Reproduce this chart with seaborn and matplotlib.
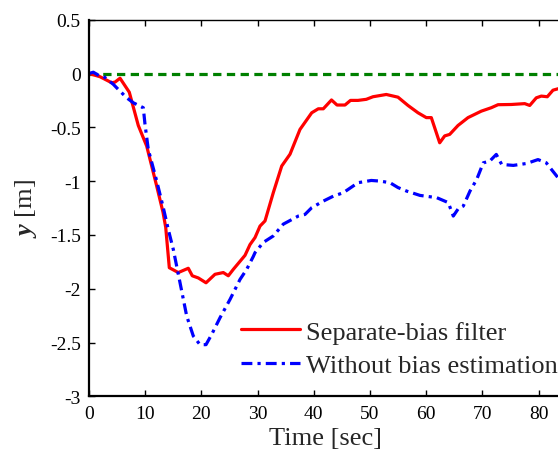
import numpy as np
import pandas as pd
import matplotlib
matplotlib.use("Agg")
import matplotlib.pyplot as plt
import seaborn as sns

# ---- data ----
t_sep = [0, 1.96, 4.04, 4.63, 5.52, 7.17, 8.77, 10.27, 12.05, 13.17, 13.65, 14.29,
         15.89, 17.67, 18.38, 19.45, 20.82, 22.42, 23.9, 24.79, 25.68, 27.76, 28.65,
         29.54, 30.43, 31.32, 32.79, 34.29, 35.77, 37.54, 39.63, 40.8, 41.69, 43.15,
         44.13, 45.55, 46.53, 47.86, 49.34, 50.53, 52.9, 54.98, 56.76, 58.54, 60.02,
         60.91, 62.4, 63.29, 64.18, 65.66, 67.44, 69.8, 71.58, 72.78, 75.14, 77.53,
         78.42, 79.59, 80.48, 81.55, 82.56, 83.45, 84.5]
y_sep = [0, -0.03, -0.086, -0.08, -0.044, -0.174, -0.483, -0.675, -1.047, -1.29, -1.43,
         -1.805, -1.85, -1.81, -1.88, -1.90, -1.945, -1.866, -1.85, -1.88, -1.82, -1.69,
         -1.59, -1.525, -1.418, -1.37, -1.108, -0.86, -0.75, -0.52, -0.365, -0.328,
         -0.328, -0.246, -0.293, -0.293, -0.25, -0.25, -0.24, -0.216, -0.195, -0.22,
         -0.297, -0.365, -0.41, -0.41, -0.644, -0.58, -0.566, -0.483, -0.41, -0.35,
         -0.318, -0.29, -0.288, -0.28, -0.297, -0.226, -0.21, -0.216, -0.155, -0.142, -0.14]

t_nob = [0, 0.77, 1.96, 2.54, 4.32, 4.93, 6.71, 7.88, 9.66, 9.96, 10.55, 12.05, 13.22,
         14.11, 15.0, 16.19, 17.38, 18.56, 19.75, 20.82, 21.83, 23.31, 25.09, 26.87,
         28.06, 29.24, 29.54, 31.01, 32.79, 34.57, 37.24, 38.43, 39.63, 41.69, 43.47,
         45.25, 47.86, 50.23, 51.78, 53.56, 54.98, 56.53, 58.9, 61.87, 63.93, 64.82,
         65.71, 66.6, 67.79, 68.99, 70.16, 71.3, 72.47, 73.43, 75.5, 77.88, 79.89,
         81.37, 82.26, 83.45, 84.5]
y_nob = [0, 0.012, -0.025, -0.025, -0.10, -0.133, -0.226, -0.272, -0.318, -0.47, -0.706,
         -1.0, -1.247, -1.45, -1.635, -1.943, -2.253, -2.44, -2.52, -2.52, -2.425, -2.27,
         -2.10, -1.914, -1.82, -1.70, -1.665, -1.57, -1.51, -1.40, -1.325, -1.31, -1.247,
         -1.186, -1.14, -1.108, -1.015, -0.994, -1.0, -1.015, -1.06, -1.093, -1.133,
         -1.154, -1.20, -1.325, -1.256, -1.232, -1.093, -0.984, -0.83, -0.815, -0.752,
         -0.845, -0.854, -0.836, -0.80, -0.83, -0.89, -0.968, -1.0]

t_ref = [0, 84.5]
y_ref = [0, 0]

labels = ["Separate-bias filter", "Without bias estimation"]
xticks = [0, 10, 20, 30, 40, 50, 60, 70, 80]
yticks = [-3, -2.5, -2, -1.5, -1, -0.5, 0, 0.5]
ytick_labels = ["-3", "-2.5", "-2", "-1.5", "-1", "-0.5", "0", "0.5"]

# ---- style ----
sns.set_style("ticks")
plt.rcParams["font.family"] = ["Liberation Serif", "DejaVu Serif"]
plt.rcParams["mathtext.fontset"] = "custom"
plt.rcParams["mathtext.rm"] = "Liberation Serif"
plt.rcParams["mathtext.it"] = "Liberation Serif:italic"
plt.rcParams["mathtext.bf"] = "Liberation Serif:bold"
plt.rcParams["mathtext.bfit"] = "Liberation Serif:italic:bold"

fig = plt.figure(figsize=(5.58, 4.56), dpi=100)
W, H = 558, 456
x0_px, x1_px = 89, 89 + 84 * 5.62
top_px, bot_px = 20.7, 397.3
ax = fig.add_axes([x0_px / W, 1 - bot_px / H, (x1_px - x0_px) / W, (bot_px - top_px) / H])

df_ref = pd.DataFrame({"t": t_ref, "y": y_ref})
df_sep = pd.DataFrame({"t": t_sep, "y": y_sep})
df_nob = pd.DataFrame({"t": t_nob, "y": y_nob})

sns.lineplot(data=df_ref, x="t", y="y", ax=ax, color="#008000", lw=2.3,
             dashes=False, estimator=None, sort=False)
ax.lines[-1].set_dashes([2.6, 1.7])
sns.lineplot(data=df_sep, x="t", y="y", ax=ax, color="#ff0000", lw=2.3,
             estimator=None, sort=False, label=labels[0])
sns.lineplot(data=df_nob, x="t", y="y", ax=ax, color="#0000ff", lw=2.3,
             estimator=None, sort=False, label=labels[1])
ax.lines[-1].set_dashes([3.4, 1.6, 1.0, 1.6])

ax.set_xlim(0, 84)
ax.set_ylim(-3, 0.5)
ax.set_xticks(xticks)
ax.set_xticklabels([str(v) for v in xticks])
ax.set_yticks(yticks)
ax.set_yticklabels(ytick_labels)
ax.tick_params(direction="in", length=4, width=1, labelsize=14, top=True, right=False,
               colors="black", pad=6)
for s in ["left", "bottom"]:
    ax.spines[s].set_linewidth(1.6)
for s in ["top", "right"]:
    ax.spines[s].set_linewidth(1.0)
for s in ax.spines.values():
    s.set_color("black")

ax.set_xlabel("Time [sec]", fontsize=19, labelpad=4)
ax.set_ylabel(r"$\mathbfit{y}$ [m]", fontsize=19, labelpad=8)

leg = ax.legend(loc="center left", bbox_to_anchor=(241 / W, 1 - 349.5 / H),
                bbox_transform=fig.transFigure, frameon=False, fontsize=19,
                borderpad=0, borderaxespad=0, handlelength=2.24, handletextpad=0.23,
                labelspacing=0.37)

fig.savefig("out.png", dpi=100)
